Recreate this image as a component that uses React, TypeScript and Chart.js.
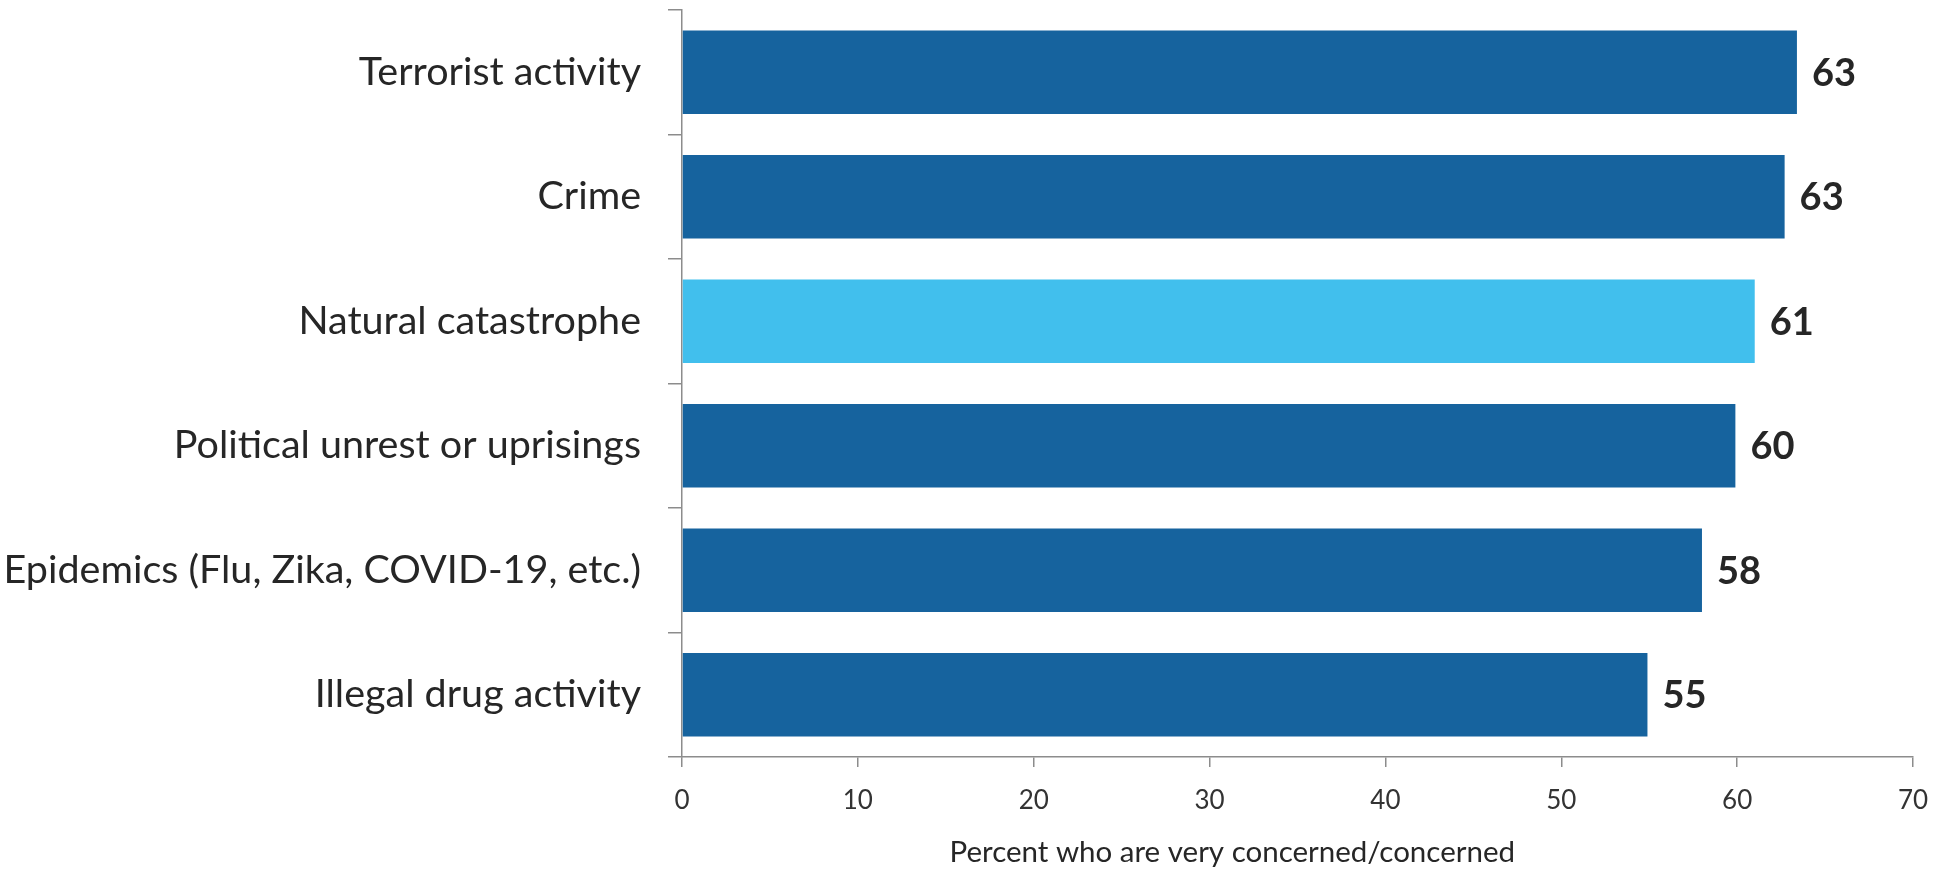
import { useEffect, useRef } from "react";
import { Chart, registerables } from "chart.js";

Chart.register(...registerables);

const categories = [
  "Terrorist activity",
  "Crime",
  "Natural catastrophe",
  "Political unrest or uprisings",
  "Epidemics (Flu, Zika, COVID-19, etc.)",
  "Illegal drug activity",
];
const values = [63.4, 62.7, 61.0, 59.9, 58.0, 54.9];
const valueLabels = ["63", "63", "61", "60", "58", "55"];
const barColors = ["#16639e", "#16639e", "#41bfed", "#16639e", "#16639e", "#16639e"];
const xMin = 0;
const xMax = 70;
const xStep = 10;
const xAxisTitle = "Percent who are very concerned/concerned";

const FONT = "Lato, 'Open Sans', sans-serif";
const AXIS_GRAY = "#8c8c8c";
const TEXT = "#262626";

const valueLabelPlugin = {
  id: "valueLabels",
  afterDatasetsDraw(chart: any) {
    const ctx = chart.ctx;
    const meta = chart.getDatasetMeta(0);
    ctx.save();
    ctx.font = `bold 38px ${FONT}`;
    ctx.fillStyle = TEXT;
    ctx.textAlign = "left";
    ctx.textBaseline = "middle";
    meta.data.forEach((bar: any, i: number) => {
      ctx.fillText(valueLabels[i], bar.x + 15, bar.y + 1);
    });
    ctx.restore();
  },
};

const axisTitlePlugin = {
  id: "axisTitle",
  afterDraw(chart: any) {
    const ctx = chart.ctx;
    const area = chart.chartArea;
    ctx.save();
    ctx.font = `29.5px ${FONT}`;
    ctx.fillStyle = TEXT;
    ctx.textAlign = "center";
    ctx.textBaseline = "alphabetic";
    const cx = area.left + (area.right - area.left) * 0.447;
    ctx.fillText(xAxisTitle, cx, chart.height - 13);
    ctx.restore();
  },
};

export default function App() {
  const canvasRef = useRef<HTMLCanvasElement | null>(null);

  useEffect(() => {
    if (!canvasRef.current) return;
    const chart = new Chart(canvasRef.current, {
      type: "bar",
      data: {
        labels: categories,
        datasets: [
          {
            data: values,
            backgroundColor: barColors,
            borderWidth: 0,
            categoryPercentage: 0.67,
            barPercentage: 1,
          },
        ],
      },
      plugins: [valueLabelPlugin, axisTitlePlugin],
      options: {
        indexAxis: "y",
        animation: false,
        responsive: true,
        maintainAspectRatio: false,
        layout: { padding: { top: 10, right: 23, bottom: 0, left: 0 } },
        plugins: {
          legend: { display: false },
          tooltip: { enabled: false },
          title: { display: false },
        },
        scales: {
          x: {
            type: "linear",
            min: xMin,
            max: xMax,
            ticks: {
              stepSize: xStep,
              color: "#333333",
              font: { family: FONT, size: 26, lineHeight: 1 },
              padding: 21,
            },
            grid: {
              drawOnChartArea: false,
              drawTicks: true,
              tickLength: 10,
              color: AXIS_GRAY,
              lineWidth: 1.5,
            },
            border: { display: true, color: AXIS_GRAY, width: 1.5 },
            afterFit(scale: any) {
              scale.height = 118;
              scale.paddingLeft = 0;
              scale.paddingRight = 0;
            },
          },
          y: {
            type: "category",
            ticks: {
              color: TEXT,
              font: { family: FONT, size: 39.5 },
              padding: 27,
            },
            grid: {
              drawOnChartArea: false,
              drawTicks: true,
              tickLength: 14,
              offset: true,
              color: AXIS_GRAY,
              lineWidth: 1.5,
            },
            border: { display: true, color: AXIS_GRAY, width: 1.5 },
            afterFit(scale: any) {
              scale.width = 682;
              scale.paddingTop = 0;
              scale.paddingBottom = 0;
            },
          },
        },
      },
    });
    return () => chart.destroy();
  }, []);

  return (
    <div style={{ position: "absolute", left: 0, top: 0, width: 1936, height: 875, background: "#fff" }}>
      <canvas ref={canvasRef} />
    </div>
  );
}
